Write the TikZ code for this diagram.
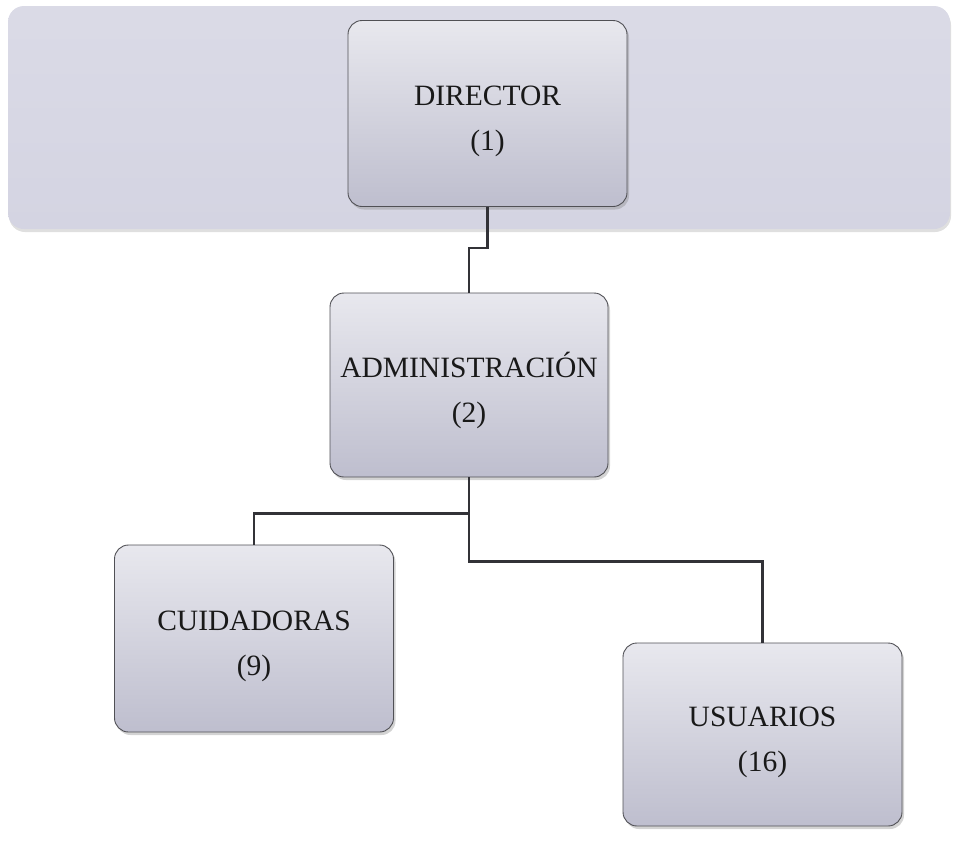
\documentclass[tikz,border=0pt]{standalone}
\usepackage{fontspec}
\setmainfont{Liberation Serif}
\usetikzlibrary{shadows,calc}
\definecolor{bandcol}{RGB}{212,212,226}
\definecolor{boxtop}{RGB}{232,232,238}
\definecolor{boxbot}{RGB}{190,190,206}
\definecolor{edgecol}{RGB}{80,80,85}
\definecolor{linecol}{RGB}{50,50,55}
\newcommand\mytoppad{\rule{0pt}{36pt}}
\tikzset{
  orgbox/.style={draw=edgecol, line width=0.9pt, rounded corners=14pt,
    minimum width=279pt, minimum height=186pt, align=center,
    top color=boxtop, bottom color=boxbot,
    font=\fontsize{29.5}{45}\selectfont, text=black!90,
    drop shadow={opacity=0.35, shadow xshift=2pt, shadow yshift=-3pt}},
  band/.style={rounded corners=16pt, minimum width=942pt, minimum height=223pt,
    top color=bandcol!85!white, bottom color=bandcol,
    drop shadow={opacity=0.25, shadow xshift=1pt, shadow yshift=-3pt}},
  conn/.style={draw=linecol, line width=2.8pt}
}
\begin{document}
\begin{tikzpicture}[x=1pt,y=-1pt]
\useasboundingbox (0,0) rectangle (956,841);
\node[band] (banner) at (479,117.5) {};
\node[orgbox] (dir) at (487.5,113.5) {\mytoppad DIRECTOR\\(1)};
\node[orgbox, minimum width=278pt, minimum height=184pt] (adm) at (469,385) {\mytoppad ADMINISTRACIÓN\\(2)};
\node[orgbox, minimum height=187pt] (cuid) at (254,638.5) {\mytoppad CUIDADORAS\\(9)};
\node[orgbox, minimum height=183pt] (usu) at (762.5,734.5) {\mytoppad USUARIOS\\(16)};
\draw[conn] (dir.south) -- ++(0,41) -| (adm.north);
\draw[conn] (adm.south) -- ++(0,36) -| (cuid.north);
\draw[conn] (adm.south) -- ++(0,84) -| (usu.north);
\end{tikzpicture}
\end{document}
